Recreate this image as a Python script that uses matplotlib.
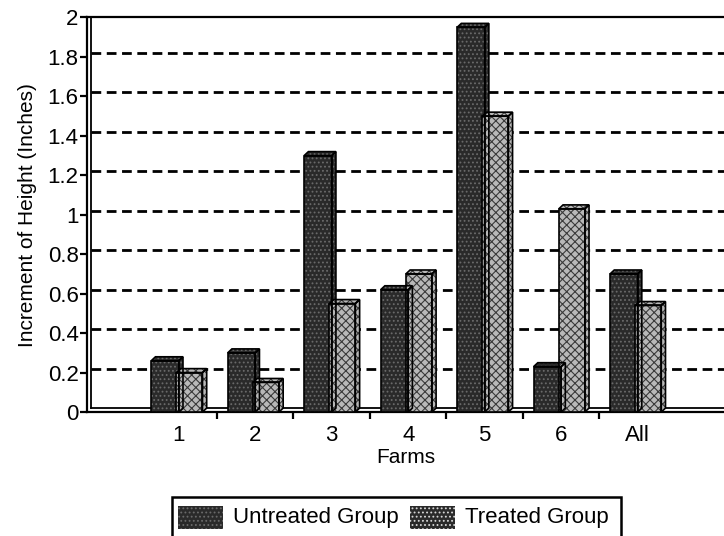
import matplotlib
matplotlib.use("Agg")
import matplotlib.pyplot as plt
from matplotlib.patches import Polygon, Rectangle

plt.rcParams['font.family'] = ['Liberation Sans', 'DejaVu Sans']
plt.rcParams['hatch.linewidth'] = 0.8

# growth in height per farm (inches)
farms = ["1", "2", "3", "4", "5", "6", "All"]
untreated = [0.26, 0.30, 1.30, 0.62, 1.95, 0.23, 0.70]
treated = [0.20, 0.15, 0.55, 0.70, 1.50, 1.03, 0.54]
yticks = [0, 0.2, 0.4, 0.6, 0.8, 1, 1.2, 1.4, 1.6, 1.8, 2]

DX, DY = 0.055, 0.02        # depth of the fake 3-D extrusion
X0, X1 = -0.2, 8.13

dark = dict(face="#2a2a2a", hatch="....", hcolor="#6a6a6a")
light = dict(face="#b8b8b8", hatch="xxxx", hcolor="#3a3a3a")


def bar3d(ax, x0, h, w, st):
    front = [(x0, 0), (x0 + w, 0), (x0 + w, h), (x0, h)]
    side = [(x0 + w, 0), (x0 + w + DX, DY), (x0 + w + DX, h + DY), (x0 + w, h)]
    top = [(x0, h), (x0 + DX, h + DY), (x0 + w + DX, h + DY), (x0 + w, h)]
    for pts in (side, top, front):
        ax.add_patch(Polygon(pts, closed=True, facecolor=st["face"], edgecolor=st["hcolor"],
                             hatch=st["hatch"], lw=0, zorder=3))
        ax.add_patch(Polygon(pts, closed=True, fill=False, edgecolor="black",
                             lw=1.2, zorder=3.5))


fig = plt.figure(figsize=(7.24, 5.36), dpi=100)
ax = fig.add_axes([0.1202, 0.2313, 0.8798, 0.7361])
ax.set_xlim(X0, X1)
ax.set_ylim(0, 2)

# dashed grid on the back wall
for v in yticks[1:-1]:
    ax.plot([X0 + DX, X1], [v + DY, v + DY], color="black", lw=2,
            dashes=(3.5, 2.0), zorder=1)

# double lines for the wall/floor edges
ax.plot([X0 + DX, X0 + DX], [DY, 2], color="black", lw=1.3, zorder=2)
ax.plot([X0 + DX, X1], [DY, DY], color="black", lw=1.3, zorder=2)

for i, (u, t) in enumerate(zip(untreated, treated)):
    k = i + 1
    bar3d(ax, k - 0.36, u, 0.36, dark)
    bar3d(ax, k - 0.03, t, 0.34, light)

ax.spines["right"].set_visible(False)
for s in ("left", "bottom", "top"):
    ax.spines[s].set_linewidth(1.6)

ax.set_yticks(yticks)
ax.set_yticklabels(["%g" % v for v in yticks], fontsize=16)
ax.tick_params(axis="y", direction="out", length=5, width=1.6, pad=1)
ax.set_xticks(range(1, len(farms) + 1))
ax.set_xticklabels(farms, fontsize=16)
ax.set_xticks([k + 0.5 for k in range(1, len(farms))], minor=True)
ax.tick_params(axis="x", which="major", length=0, pad=9)
ax.tick_params(axis="x", which="minor", direction="out", length=5, width=1.6)

ax.set_xlabel("Farms", fontsize=15, labelpad=2)
ax.set_ylabel("Increment of Height (Inches)", fontsize=15, labelpad=8)

# legend box along the bottom edge
W, H = 724.0, 536.0
items = [(dark, "#6a6a6a", 178, "Untreated Group"), (dark, "#d8d8d8", 410, "Treated Group")]
last = None
for st, dots, xs, label in items:
    fig.patches.append(Rectangle((xs / W, 1 - 529 / H), 45 / W, 23 / H,
                                 transform=fig.transFigure, facecolor=st["face"],
                                 edgecolor=dots, hatch="....", lw=0))
    last = fig.text((xs + 55) / W, 1 - 517 / H, label, fontsize=16, va="center", ha="left")

fig.canvas.draw()
bb = last.get_window_extent(fig.canvas.get_renderer())
right = (bb.x1 + 12) / W
left = 172 / W
fig.patches.append(Rectangle((left, -0.02), right - left, 0.02 + (H - 497) / H,
                             transform=fig.transFigure, fill=False, edgecolor="black", lw=1.8))

fig.savefig("out.png", dpi=100)
